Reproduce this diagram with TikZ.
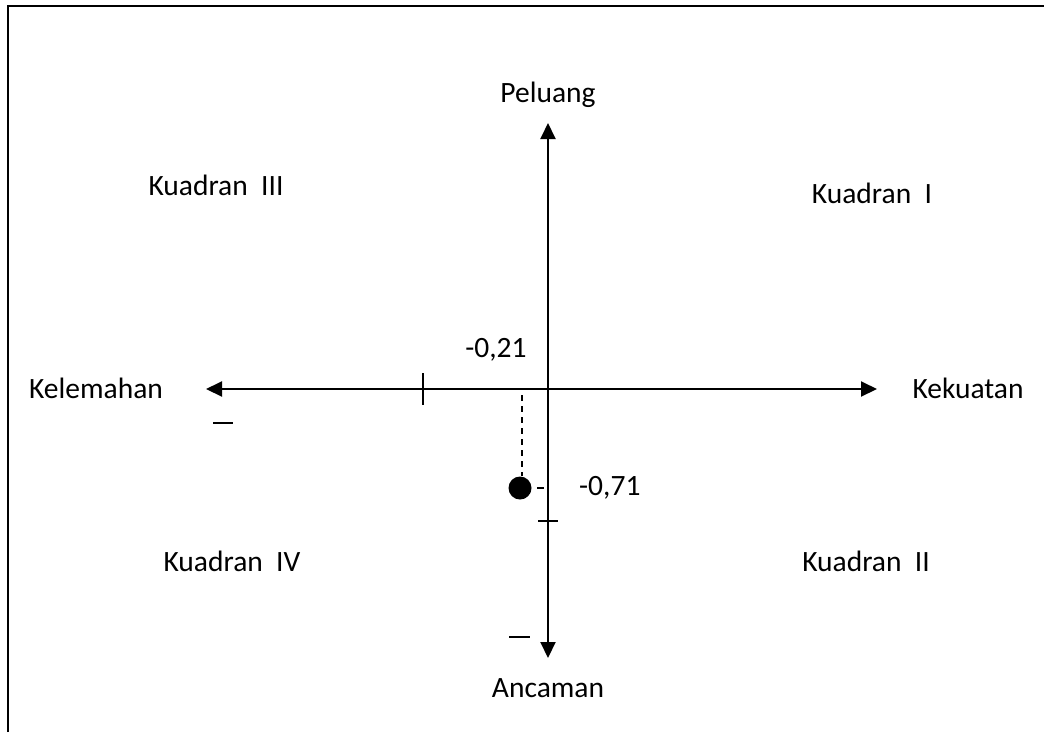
\documentclass[tikz,border=0pt]{standalone}
\usepackage{fontspec}
\setmainfont{Carlito}
\usetikzlibrary{arrows.meta}
\begin{document}
\begin{tikzpicture}[x=1pt,y=-1pt,
  lbl/.style={inner sep=0pt,font=\fontsize{29.5}{35}\selectfont},
  axis/.style={line width=2pt,-{Triangle[length=16pt,width=15pt]}},
  tick/.style={line width=1.5pt}]
\useasboundingbox (0,0) rectangle (1044,732);
\draw[line width=2pt] (8,732) -- (8,5.5) -- (1044,5.5);
% axes
\coordinate (O) at (548,389);
\coordinate (L) at (206,389);
\coordinate (R) at (877,389);
\coordinate (T) at (548,123);
\coordinate (B) at (548,658);
\draw[axis] (O) -- (R);
\draw[axis] (O) -- (L);
\draw[axis] (O) -- (T);
\draw[axis] (O) -- (B);
% ticks
\coordinate (hx1) at (423,373); \coordinate (hx2) at (423,405);
\draw[tick] (hx1) -- (hx2);
\coordinate (vy1) at (538,521); \coordinate (vy2) at (558,521);
\draw[tick] (vy1) -- (vy2);
\coordinate (dm1) at (537,488); \coordinate (dm2) at (544,488);
\draw[tick] (dm1) -- (dm2);
\coordinate (m1a) at (213,423); \coordinate (m1b) at (233,423);
\draw[tick] (m1a) -- (m1b);
\coordinate (m2a) at (509,637); \coordinate (m2b) at (530,637);
\draw[tick] (m2a) -- (m2b);
% point
\node[circle,fill=black,inner sep=0pt,minimum size=23pt] (P) at (520,488) {};
\coordinate (dtop) at (522,395);
\draw[line width=1.5pt,dash pattern=on 6pt off 5pt] (dtop) -- (P.north -| dtop);
% labels
\node[lbl] (peluang) at (548,95) {Peluang};
\node[lbl] (ancaman) at (548,688) {Ancaman};
\node[lbl] (kelemahan) at (96,388) {Kelemahan};
\node[lbl] (kekuatan) at (968,388) {Kekuatan};
\node[lbl] (k3) at (216,185) {Kuadran\ \ III};
\node[lbl] (k1) at (872,193) {Kuadran\ \ I};
\node[lbl] (k4) at (232,561) {Kuadran\ \ IV};
\node[lbl] (k2) at (866,561) {Kuadran\ \ II};
\node[lbl] (v21) at (496,350) {-0,21};
\node[lbl,anchor=west] (v71) at (579,488) {-0,71};
\end{tikzpicture}
\end{document}
